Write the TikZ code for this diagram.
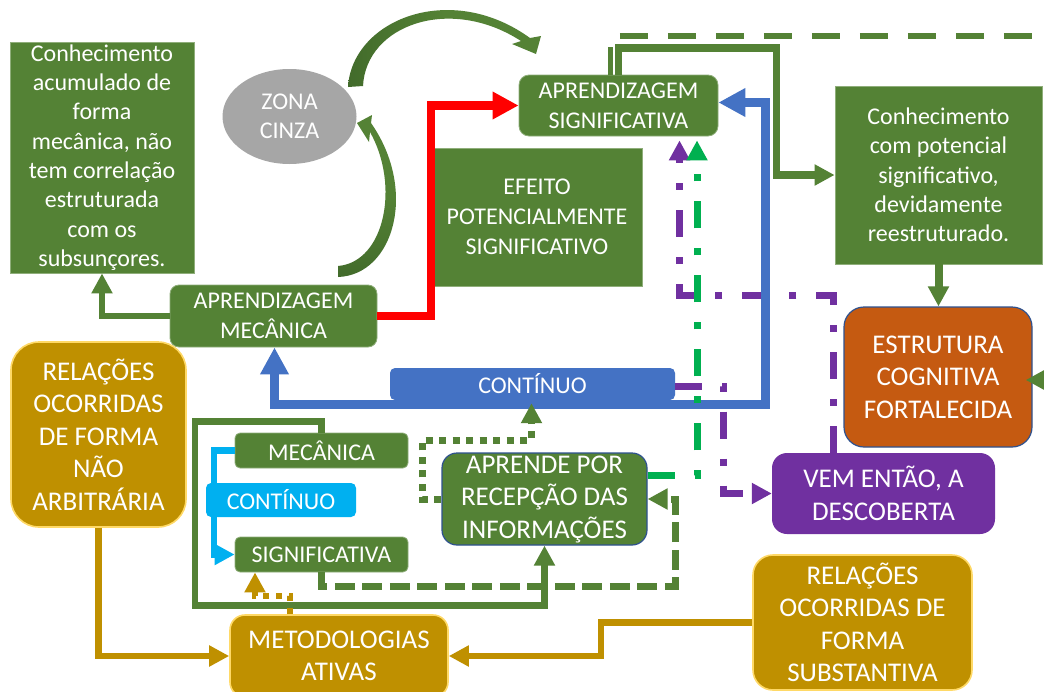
\documentclass[tikz,border=0pt]{standalone}
\usepackage{fontspec}
\setmainfont{Carlito}
\usetikzlibrary{arrows.meta,shapes.geometric,calc}

\definecolor{gfill}{HTML}{548235}
\definecolor{gdark}{HTML}{426B2B}
\definecolor{gedge}{HTML}{8FAE7A}
\definecolor{goldf}{HTML}{BF9000}
\definecolor{golde}{HTML}{FFD966}
\definecolor{bblue}{HTML}{4472C4}
\definecolor{cyanf}{HTML}{00B0F0}
\definecolor{purp}{HTML}{7030A0}
\definecolor{ddgreen}{HTML}{00B050}
\definecolor{orng}{HTML}{C55A11}
\definecolor{navy}{HTML}{2F528F}
\definecolor{zgray}{HTML}{A6A6A6}
\definecolor{redl}{HTML}{FF0000}

\newcommand\fsA{\fontsize{24pt}{29.3pt}\selectfont}
\newcommand\fsB{\fontsize{27pt}{32.5pt}\selectfont}
\newcommand\fsC{\fontsize{24pt}{30pt}\selectfont}
\newcommand\fsD{\fontsize{24pt}{30pt}\selectfont}

\tikzset{
  box/.style={inner sep=0pt, text=white, align=center, font=\fsA},
  gbox/.style={box, fill=gfill, draw=gedge, line width=0.8pt},
  goldbox/.style={box, fill=goldf, draw=golde, line width=1.6pt, font=\fsB},
  tip/.style={-{Triangle[length=#1pt,width=#1pt]}},
  tip/.default=20,
  gline/.style={draw=gfill, line width=6.7pt},
  goldline/.style={draw=goldf, line width=6.5pt},
  dashdot/.style={line width=7pt, dash pattern=on 27pt off 20pt on 7pt off 20pt},
}

\begin{document}
\begin{tikzpicture}[x=1pt, y=-1pt]
\useasboundingbox (0,0) rectangle (1044,691);
\fill[white] (0,0) rectangle (1044,691);

% ---------- boxes ----------
\node[gbox, minimum width=184pt, minimum height=231pt] (tl) at (102,157.5)
  {Conhecimento\\acumulado de\\forma\\mecânica, não\\tem correlação\\estruturada\\com os\\subsunçores.};
\node[box, ellipse, fill=zgray, minimum width=134pt, minimum height=95pt] (zona) at (289.5,116.5) {ZONA\\CINZA};
\node[gbox, rounded corners=9pt, minimum width=207pt, minimum height=62pt, font=\fsC] (am) at (273.5,316) {APRENDIZAGEM\\MECÂNICA};
\node[gbox, minimum width=210pt, minimum height=138pt, font=\fsD] (ef) at (537,217) {EFEITO\\POTENCIALMENTE\\SIGNIFICATIVO};
\node[gbox, rounded corners=10pt, minimum width=199pt, minimum height=61pt, font=\fsC] (as) at (618.5,105.5) {APRENDIZAGEM\\SIGNIFICATIVA};
\node[gbox, minimum width=207pt, minimum height=178pt] (kr) at (938.5,175)
  {Conhecimento\\com potencial\\significativo,\\devidamente\\reestruturado.};
\node[box, fill=orng, draw=navy, line width=1.2pt, rounded corners=20pt, minimum width=188pt, minimum height=140pt, font=\fsB] (est) at (938,377) {ESTRUTURA\\COGNITIVA\\FORTALECIDA};
\node[box, fill=bblue, rounded corners=5pt, minimum width=285pt, minimum height=32pt] (cont) at (532.5,384) {CONTÍNUO};
\node[goldbox, rounded corners=28pt, minimum width=175pt, minimum height=185pt] (rel1) at (98.5,434.5) {RELAÇÕES\\OCORRIDAS\\DE FORMA\\NÃO\\ARBITRÁRIA};
\node[gbox, rounded corners=5pt, minimum width=173pt, minimum height=35pt] (mec) at (321.5,450.5) {MECÂNICA};
\node[box, fill=cyanf, rounded corners=5pt, minimum width=150pt, minimum height=34pt] (cy) at (281,500) {CONTÍNUO};
\node[gbox, rounded corners=5pt, minimum width=173pt, minimum height=35pt] (sig) at (321.5,554.5) {SIGNIFICATIVA};
\node[box, fill=gfill, draw=navy, line width=1.2pt, rounded corners=15pt, minimum width=205pt, minimum height=92pt, font=\fsB] (apr) at (544.5,499) {APRENDE POR\\RECEPÇÃO DAS\\INFORMAÇÕES};
\node[box, fill=purp, rounded corners=15pt, minimum width=223pt, minimum height=81pt, font=\fsB] (vem) at (883.5,493.5) {VEM ENTÃO, A\\DESCOBERTA};
\node[goldbox, rounded corners=20pt, minimum width=219pt, minimum height=135pt] (rel2) at (862.5,622.5) {RELAÇÕES\\OCORRIDAS DE\\FORMA\\SUBSTANTIVA};
\node[goldbox, rounded corners=15pt, minimum width=218pt, minimum height=82pt] (met) at (339,656) {METODOLOGIAS\\ATIVAS};

% ---------- bend points ----------
\coordinate (rx) at (431,0);
\coordinate (bx) at (765.5,0);
\coordinate (by) at (0,404.5);
\coordinate (gx) at (776.5,0);
\coordinate (gy) at (0,48);
\coordinate (tdend) at (1050,36);
\coordinate (eR) at (1060,380);
\coordinate (px) at (679.5,0);
\coordinate (py) at (0,295);
\coordinate (p2x) at (723.5,0);
\coordinate (gdx) at (697,0);
\coordinate (lx) at (195,0);
\coordinate (ly1) at (0,421.5);
\coordinate (ly2) at (0,605.5);
\coordinate (dx) at (675.5,0);
\coordinate (dy) at (0,586.5);
\coordinate (ox) at (422.5,0);
\coordinate (oy) at (0,440);
\coordinate (cx) at (214,0);
\coordinate (gx2) at (255,0);
\coordinate (gy2) at (0,595.5);
\coordinate (g3x) at (601,0);

% ---------- connectors ----------
% mechanical learning -> accumulated knowledge
\draw[gline, tip] (am.west) -| (tl.south);
% mechanical -> meaningful (red)
\draw[draw=redl, line width=8.3pt, tip=26] (am.east) -| (rx |- as.west) -- (as.west);
% meaningful learning -> restructured knowledge
\draw[gline, line width=7.6pt, tip] (as.north) |- (gx |- gy) |- (kr.west);
% dashed line along the top
\draw[draw=gfill, line width=5.5pt, dash pattern=on 28pt off 20pt] ([xshift=-8pt]as.north) |- (tdend);
% restructured knowledge -> cognitive structure
\draw[gline, line width=8pt, tip] (kr.south) -- (kr.south |- est.north);
% incoming arrow on the right
\draw[gline, line width=7pt, tip=24] (eR) -- ([xshift=-7pt,yshift=-3pt]est.east);

% discovery -> meaningful (purple dash-dot)
\draw[draw=purp, dashdot, tip] ([xshift=-50pt]vem.north) |- (px |- py) -- ([yshift=-4pt]px |- as.south);
% continuum line (blue, both ends)
\draw[draw=bblue, line width=8.6pt, {Triangle[length=27pt,width=27pt]}-{Triangle[length=27pt,width=27pt]}]
  ([xshift=1pt]am.south) |- (bx |- by) |- ([yshift=3pt]as.east);
% continuum -> discovery (purple dash-dot)
\draw[draw=purp, dashdot, tip] ([yshift=-2pt]cont.east) -| (p2x |- vem.west) -- (vem.west);
% reception -> meaningful (green dash-dot)
\draw[draw=ddgreen, dashdot, tip] ([yshift=24pt]apr.east) -| ([yshift=-4pt]gdx |- as.south);

% small mechanical/meaningful loop
\draw[gline, tip] (mec.north) |- (lx |- ly1) |- (apr.south |- ly2) -- (apr.south);
\draw[gline, line width=7pt, dash pattern=on 20pt off 7.5pt, tip] (sig.south) |- (dx |- dy) |- (apr.east);
\draw[gline, line width=7pt, dash pattern=on 7pt off 6.5pt, tip] (apr.west) -| (ox |- oy) -| ([xshift=-1pt,yshift=-3pt]cont.south);
\draw[draw=cyanf, line width=6.5pt, tip] (mec.west) -| (cx |- sig.west) -- (sig.west);

% active methodologies
\draw[goldline, line width=6pt, dash pattern=on 6pt off 7pt, tip] ([xshift=-49.5pt]met.north) |- (gx2 |- gy2) -- (gx2 |- sig.south);
\draw[goldline, tip] (rel1.south) |- (met.west);
\draw[goldline, tip] (rel2.west) -| (g3x |- met.east) -- (met.east);

% curved block arrows around the grey zone
\shade[left color=gdark, right color=gfill, middle color=gfill]
  (348,87) .. controls (352,20) and (450,-20) .. (530,38)
  -- (541,36) -- (536,54) -- (512,44) -- (521,41)
  .. controls (450,-5) and (366,25) .. (363,86) -- cycle;
\shade[bottom color=gdark, top color=gfill, middle color=gfill]
  (338,277) .. controls (394,275) and (418,190) .. (371,123)
  -- (372,115) -- (357,123) -- (369,142) -- (370,132)
  .. controls (400,185) and (385,262) .. (338,266) -- cycle;
\end{tikzpicture}
\end{document}
